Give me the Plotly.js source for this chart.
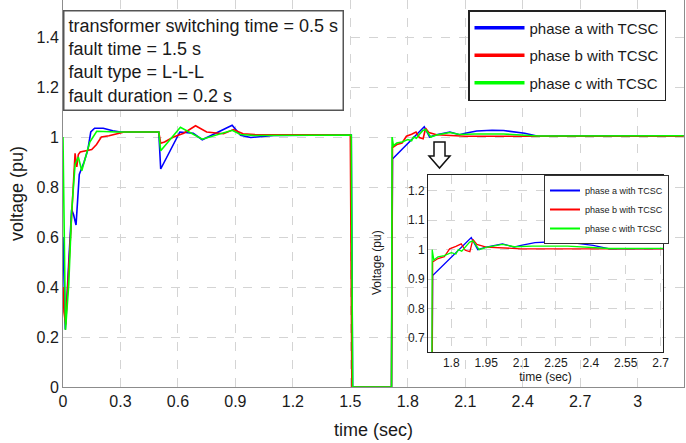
<!DOCTYPE html>
<html>
<head>
<meta charset="utf-8">
<script src="https://cdn.plot.ly/plotly-3.0.1.min.js"></script>
<style>html,body{margin:0;padding:0;background:#fff;}#chart{width:686px;height:443px;}</style>
</head>
<body>
<div id="chart"></div>
<script>
// ---- data ----
const seriesNames = ["phase a with TCSC", "phase b with TCSC", "phase c with TCSC"];

const tA = [0, 0.005, 0.012, 0.03, 0.045, 0.055, 0.068, 0.085, 0.11, 0.13, 0.145, 0.165, 0.21, 0.26, 0.3,
            0.5, 0.51, 0.61, 0.68, 0.727, 0.883, 0.927, 0.98, 1.1, 1.505, 1.512, 1.715, 1.72,
            1.886, 1.914, 1.95, 2.02, 2.07, 2.1, 2.16, 2.24, 2.3, 2.41, 2.48, 2.6, 3.24];
const vA = [0.6, 0.4, 0.23, 0.5, 0.71, 0.69, 0.648, 0.85, 0.90, 0.95, 1.02, 1.035, 1.035, 1.025, 1.02,
            1.02, 0.872, 1.02, 1.015, 0.989, 1.047, 1.007, 0.998, 1.006, 1.008, 0, 0, 0.912,
            1.041, 1.0, 1.009, 1.02, 1.009, 1.015, 1.024, 1.027, 1.026, 1.015, 1.003, 1.004, 1.005];

const tB = [0, 0.005, 0.014, 0.035, 0.05, 0.063, 0.072, 0.08, 0.09, 0.12, 0.15, 0.175, 0.19, 0.2, 0.24, 0.29, 0.32,
            0.5, 0.51, 0.53, 0.577, 0.63, 0.692, 0.75, 0.838, 0.89, 0.94, 1.0, 1.5, 1.508, 1.715, 1.72,
            1.743, 1.77, 1.793, 1.82, 1.843, 1.86, 1.88, 1.893, 1.91, 1.95, 2.05, 2.1, 3.24];
const vB = [0.4, 0.3, 0.25, 0.55, 0.8, 0.935, 0.88, 0.93, 0.94, 0.945, 0.95, 0.97, 0.99, 1.0, 1.005, 1.015, 1.02,
            1.02, 0.975, 0.98, 1.0, 1.015, 1.045, 1.02, 1.013, 1.03, 1.013, 1.01, 1.008, 0, 0, 0.958,
            0.97, 0.976, 1.003, 1.011, 1.02, 0.998, 0.993, 1.035, 1.018, 1.009, 1.006, 1.003, 1.003];

const tC = [0, 0.013, 0.03, 0.045, 0.063, 0.08, 0.098, 0.12, 0.14, 0.176, 0.28,
            0.5, 0.51, 0.613, 0.727, 0.883, 0.927, 1.0, 1.505, 1.512, 1.715, 1.718,
            1.725, 1.743, 1.77, 1.80, 1.82, 1.83, 1.845, 1.86, 1.879, 1.893, 1.92, 1.95,
            2.02, 2.07, 2.15, 2.3, 2.4, 2.48, 3.24];
const vC = [1.0, 0.228, 0.41, 0.70, 0.89, 0.92, 0.865, 0.93, 0.98, 1.023, 1.02,
            1.02, 0.945, 1.039, 0.991, 1.027, 1.01, 1.006, 1.008, 0, 0, 1.0,
            0.965, 0.976, 0.98, 0.99, 0.985, 1.0, 0.995, 1.01, 1.026, 1.03, 1.0, 1.008,
            1.018, 1.01, 1.012, 1.012, 1.008, 1.004, 1.005];

const insetXTicks = [1.8, 1.95, 2.1, 2.25, 2.4, 2.55, 2.7];
const insetXLabels = ["1.8", "1.95", "2.1", "2.25", "2.4", "2.55", "2.7"];

const infoLines = ["transformer switching time = 0.5 s", "fault time = 1.5 s", "fault type = L-L-L", "fault duration = 0.2 s"];

// ---- styling ----
const colors = ["#0000ff", "#ff0000", "#00ff00"];
const FONT = "Liberation Sans, Arial, sans-serif";
const series = [[tA, vA], [tB, vB], [tC, vC]];

const traces = [];
series.forEach((s, i) => {
  traces.push({x: s[0], y: s[1], type: "scatter", mode: "lines", xaxis: "x", yaxis: "y",
    line: {color: colors[i], width: 1.6}, showlegend: false, hoverinfo: "skip"});
});
series.forEach((s, i) => {
  traces.push({x: s[0], y: s[1], type: "scatter", mode: "lines", xaxis: "x2", yaxis: "y2",
    line: {color: colors[i], width: 1.3}, showlegend: false, hoverinfo: "skip"});
});
// legend entries
seriesNames.forEach((n, i) => {
  traces.push({x: [null], y: [null], type: "scatter", mode: "lines", name: n, xaxis: "x", yaxis: "y",
    line: {color: colors[i], width: 3.5}, legend: "legend", legendgroup: "g" + i, showlegend: true});
});
seriesNames.forEach((n, i) => {
  traces.push({x: [null], y: [null], type: "scatter", mode: "lines", name: n, xaxis: "x2", yaxis: "y2",
    line: {color: colors[i], width: 2}, legend: "legend2", showlegend: true});
});

const L = 63, R = 684, T = 0, B = 387, W = 686, H = 443;
const px = v => (v - L) / (R - L);
const py = v => (B - v) / (B - T);

const gridStyle = {showgrid: true, gridcolor: "#d4d4d4", griddash: "dash", gridwidth: 1};

const layout = {
  width: W, height: H,
  margin: {l: L, r: W - R, t: T, b: H - B},
  paper_bgcolor: "#ffffff", plot_bgcolor: "#ffffff",
  font: {family: FONT, color: "#1a1a1a"},
  xaxis: Object.assign({}, gridStyle, {
    range: [0, 3.242], tick0: 0, dtick: 0.3, zeroline: false,
    showline: true, linecolor: "#8c8c8c", linewidth: 1, mirror: true,
    ticks: "", tickfont: {size: 16, family: FONT, color: "#1a1a1a"},
    title: {text: "time (sec)", font: {size: 18, family: FONT}, standoff: 14}
  }),
  yaxis: Object.assign({}, gridStyle, {
    range: [0, 1.548], tick0: 0, dtick: 0.2, zeroline: false,
    showline: true, linecolor: "#8c8c8c", linewidth: 1, mirror: true,
    ticks: "", tickfont: {size: 16, family: FONT, color: "#1a1a1a"},
    title: {text: "voltage (pu)", font: {size: 18, family: FONT}, standoff: 8}
  }),
  xaxis2: Object.assign({}, gridStyle, {
    domain: [px(428), px(663)], anchor: "y2", range: [1.70, 2.71],
    tickvals: insetXTicks, ticktext: insetXLabels, zeroline: false,
    showline: true, linecolor: "#222", linewidth: 1, mirror: true, ticks: "",
    tickfont: {size: 12, family: FONT, color: "#1a1a1a"},
    title: {text: "time (sec)", font: {size: 12, family: FONT}, standoff: 2}
  }),
  yaxis2: Object.assign({}, gridStyle, {
    domain: [py(352), py(175)], anchor: "x2", range: [0.652, 1.254], tick0: 0.7, dtick: 0.1,
    zeroline: false, showline: true, linecolor: "#222", linewidth: 1, mirror: true, ticks: "",
    tickfont: {size: 12, family: FONT, color: "#1a1a1a"}
  }),
  legend: {
    x: px(468), y: py(10), xanchor: "left", yanchor: "top",
    bgcolor: "#ffffff", bordercolor: "#222", borderwidth: 1.5,
    font: {size: 15, family: FONT, color: "#1a1a1a"}, tracegroupgap: 5, itemwidth: 50
  },
  legend2: {
    x: px(544), y: py(175), xanchor: "left", yanchor: "top",
    bgcolor: "#ffffff", bordercolor: "#333", borderwidth: 1,
    font: {size: 9, family: FONT, color: "#1a1a1a"}, tracegroupgap: 0, itemwidth: 30
  },
  annotations: [{
    xref: "paper", yref: "paper", x: 0, y: py(10), xanchor: "left", yanchor: "top",
    text: infoLines.join("<br>"), align: "left", showarrow: false,
    font: {size: 18, family: FONT, color: "#1a1a1a"},
    bgcolor: "#ffffff", bordercolor: "#555", borderwidth: 1.5, borderpad: 4
  }, {
    xref: "paper", yref: "paper", x: px(377), y: py(263), xanchor: "center", yanchor: "middle",
    text: "Voltage (pu)", textangle: -90, showarrow: false,
    font: {size: 12, family: FONT, color: "#1a1a1a"}
  }],
  shapes: [{
    type: "path", xref: "paper", yref: "paper", layer: "above",
    path: "M" + px(434) + "," + py(142) + " L" + px(445) + "," + py(142) + " L" + px(445) + "," + py(156) +
          " L" + px(450) + "," + py(156) + " L" + px(439.5) + "," + py(168) + " L" + px(429) + "," + py(156) +
          " L" + px(434) + "," + py(156) + " Z",
    line: {color: "#111", width: 1.5}, fillcolor: "#ffffff"
  }]
};

Plotly.newPlot("chart", traces, layout, {displayModeBar: false, staticPlot: true});
</script>
</body>
</html>
